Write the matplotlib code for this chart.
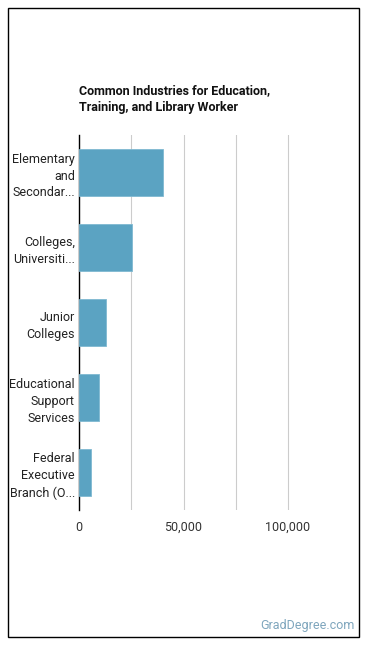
import matplotlib.pyplot as plt
from matplotlib.patches import Rectangle

# data
industries = ["Elementary\nand\nSecondar...", "Colleges,\nUniversiti...", "Junior\nColleges",
              "Educational\nSupport\nServices", "Federal\nExecutive\nBranch (O..."]
workers = [40300, 25200, 13100, 9700, 5900]
grid_ticks = [0, 25000, 50000, 75000, 100000]
tick_labels = ["0", "", "50,000", "", "100,000"]

plt.rcParams['font.family'] = ['Roboto', 'DejaVu Sans']

fig = plt.figure(figsize=(3.7, 6.48), dpi=100)
W, H = 370, 648

# outer frame
fig.patches.append(Rectangle((8 / W, 1 - 637 / H), 351 / W, 629 / H, transform=fig.transFigure,
                             fill=False, edgecolor='black', linewidth=1.0))

ax = fig.add_axes([79 / W, 1 - 510 / H, (345 - 79) / W, 375 / H])
y = list(range(len(industries)))
ax.barh(y, workers, height=0.63, color='#5ba3c2', edgecolor='#7fb9d1', linewidth=0.6, zorder=3)
ax.set_ylim(len(industries) - 0.5, -0.5)
ax.set_xlim(0, (345 - 79) / 104.5 * 50000)
ax.set_yticks(y)
ax.set_yticklabels(industries, fontsize=9, color='#222222', linespacing=1.4)
ax.set_xticks(grid_ticks)
ax.set_xticklabels(tick_labels, fontsize=9, color='#333333')
ax.tick_params(axis='both', length=0, pad=3)
ax.tick_params(axis='x', pad=8)
ax.grid(axis='x', color='#cccccc', linewidth=0.8, zorder=0)
for s in ['top', 'right', 'bottom']:
    ax.spines[s].set_visible(False)
ax.spines['left'].set_color('black')
ax.spines['left'].set_linewidth(1.0)

fig.text(79 / W, 1 - 99 / H, "Common Industries for Education,\nTraining, and Library Worker",
         fontsize=9, fontweight='bold', color='#111111', va='center', ha='left', linespacing=1.3)
fig.text(355 / W, 1 - 626 / H, "GradDegree.com", fontsize=9, color='#7fa6bd',
         ha='right', va='center')

fig.savefig("out.png", dpi=100)
